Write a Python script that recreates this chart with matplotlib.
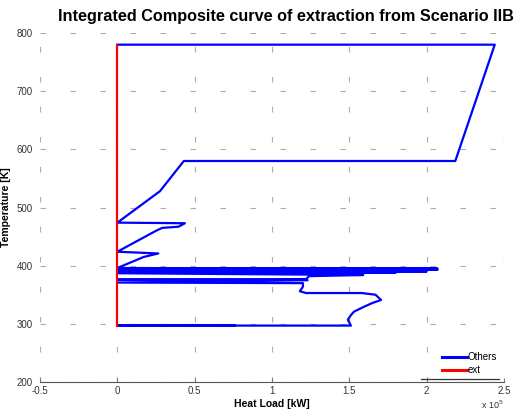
import matplotlib
matplotlib.use("Agg")
import matplotlib.pyplot as plt
from matplotlib.ticker import FuncFormatter

plt.rcParams["font.family"] = ["Liberation Sans", "DejaVu Sans"]

# heat load [kW] and temperature [K] for the "Others" curve
others_q = [
    0, 244000, 218500, 43000, 27500, 0,
    43700, 39500, 29000, 25000, 0,
    26500, 17000, 0,
    207000, 0, 207000, 0, 200000, 0, 180000, 0, 159000,
    124000, 122000, 0, 123000, 0, 120000,
    120000, 118000, 122000, 158000, 167000, 170500, 165000,
    160000, 153000, 151000, 149000, 151000, 0, 76000,
]
others_t = [
    780, 780, 580, 580, 528, 474,
    473, 467, 465, 460, 424,
    421, 415, 396,
    395, 394.5, 393, 392.5, 390, 389.5, 388, 387, 384,
    382, 377, 376, 375, 371, 370,
    364, 356, 353, 353, 350, 341, 336,
    330, 321, 315, 307, 297, 297, 297,
]

ext_q = [0, 0]
ext_t = [297, 780]

xticks = [-50000, 0, 50000, 100000, 150000, 200000, 250000]
yticks = [200, 300, 400, 500, 600, 700, 800]

fig = plt.figure(figsize=(5.15, 4.12), dpi=100)
ax = fig.add_axes([0.0777, 0.0728, 0.901, 0.847])

ax.plot(others_q, others_t, color="#0000ff", lw=1.6, label="Others")
ax.plot(ext_q, ext_t, color="#ff0000", lw=1.6, label="ext")

ax.set_xlim(-50000, 250000)
ax.set_ylim(200, 800)
ax.set_xticks(xticks)
ax.set_yticks(yticks)
ax.xaxis.set_major_formatter(FuncFormatter(lambda v, p: f"{v / 1e5:g}"))

ax.grid(True, color="#8a8a8a", linestyle=(0, (5, 22)), lw=0.8, alpha=0.7)
for side in ("left", "top", "right"):
    ax.spines[side].set_visible(False)
ax.spines["bottom"].set_color("#555555")
ax.tick_params(axis="x", direction="in", length=3, color="#777777", labelsize=7,
               labelcolor="#333333", pad=3)
ax.tick_params(axis="y", length=0, labelsize=7, labelcolor="#333333", pad=5)

ax.set_xlabel("Heat Load [kW]", fontsize=7.5, fontweight="bold", labelpad=2)
ax.set_ylabel("Temperature [K]", fontsize=7.5, fontweight="bold", labelpad=4)
ax.set_title("Integrated Composite curve of extraction from Scenario IIB",
             fontsize=11.7, fontweight="bold", pad=9, x=0.53)
ax.text(1.0, -0.065, r"x 10$^5$", transform=ax.transAxes, fontsize=6.5,
        ha="right", va="center", color="#333333")

leg = ax.legend(loc="lower right", frameon=False, fontsize=7, handlelength=2.6,
                handletextpad=0.1, labelspacing=0.3, borderaxespad=0.3,
                bbox_to_anchor=(1.0, 0.0))
for line in leg.get_lines():
    line.set_linewidth(2.2)
ax.plot([0.82, 0.99], [0.008, 0.008], transform=ax.transAxes, color="#333333",
        lw=0.9, clip_on=False)

fig.savefig("out.png", dpi=100)
